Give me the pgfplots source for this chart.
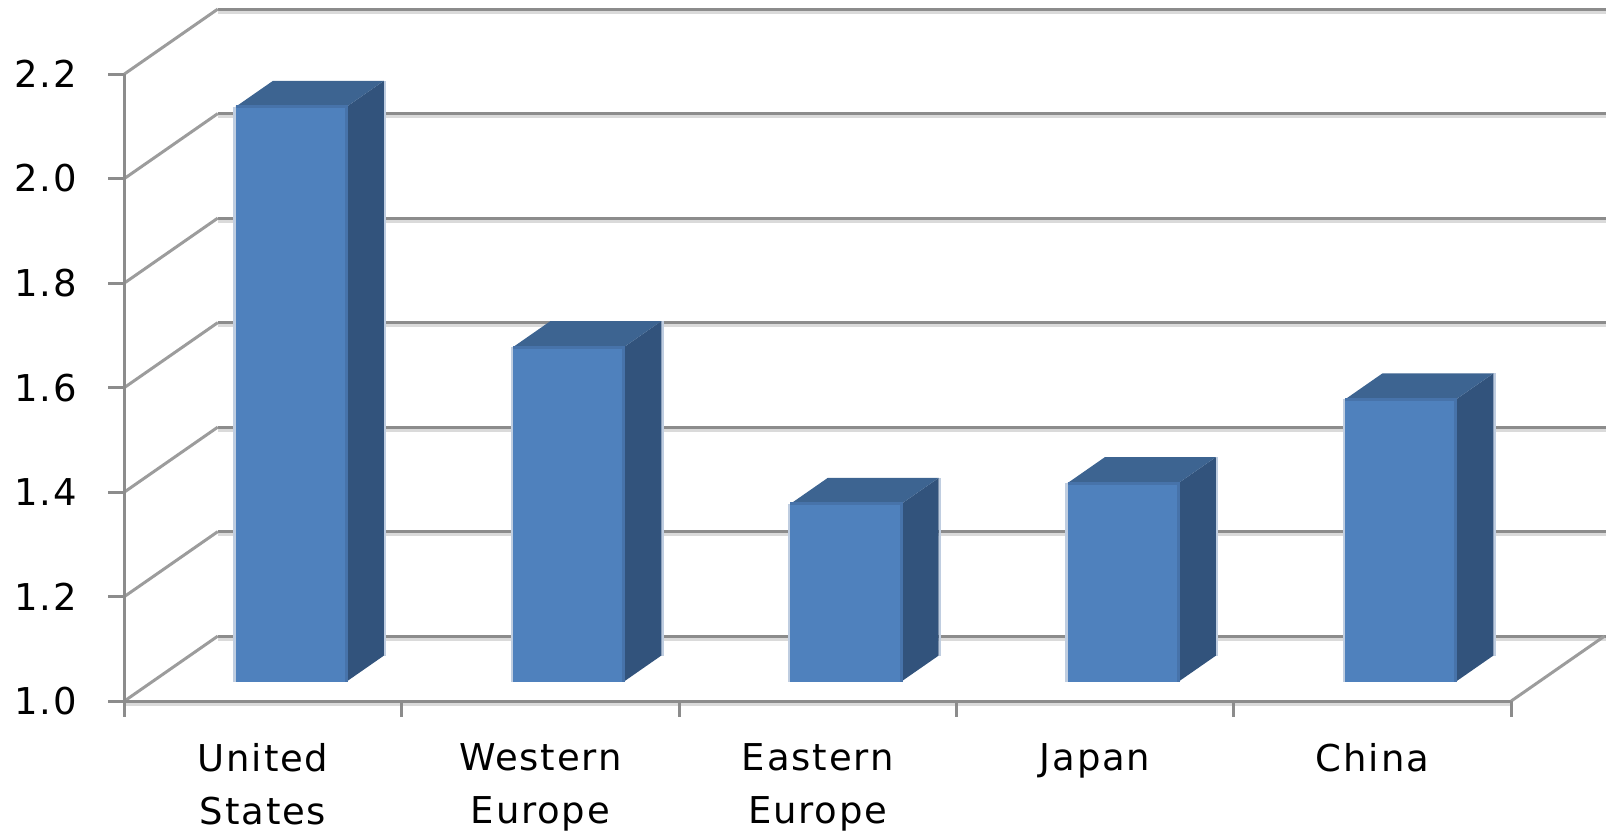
\documentclass[border=0pt]{standalone}
\usepackage{pgfplots}
\pgfplotsset{compat=1.18}
\usepackage{pgfplotstable}
\usepackage{fontspec}
\setmainfont{DejaVu Sans}[LetterSpace=5]

\definecolor{barfront}{HTML}{4F81BD}
\definecolor{bartop}{HTML}{3D6491}
\definecolor{barside}{HTML}{32537C}
\definecolor{barfrontedge}{HTML}{4773AA}
\definecolor{barglow}{HTML}{BFCDE0}
\definecolor{griddark}{HTML}{8C8C8C}
\definecolor{gridlight}{HTML}{DADADA}
\definecolor{griddiag}{HTML}{9C9C9C}

% bar values (one per category, plotted at 0..4)
\pgfplotstableread{
idx v
0 2.10
1 1.64
2 1.34
3 1.38
4 1.54
}\bartable

\begin{document}
\begin{tikzpicture}
\begin{axis}[
  x=138.8pt, y=261.5pt,
  xmin=0, xmax=5.3368, ymin=1, ymax=2.3243,
  clip=false,
  axis line style={draw=none},
  major tick length=0pt,
  no markers,
  ytick={1,1.2,1.4,1.6,1.8,2.0,2.2},
  yticklabels={1.0,1.2,1.4,1.6,1.8,2.0,2.2},
  xtick={0.5,1.5,2.5,3.5,4.5},
  xticklabels={United\\States,Western\\Europe,Eastern\\Europe,Japan,China},
  tick label style={font=\fontsize{18.5}{26.5}\selectfont, text=black},
  xticklabel style={align=center, inner sep=0pt, anchor=north, yshift=-20.9pt},
  yticklabel style={anchor=east, inner sep=0pt, xshift=-23.75pt},
  /pgf/number format/assume math mode=true,
]
% invisible frame points fixing the picture's extent
\addplot[draw=none] coordinates {(-0.4485,0.7509) (5.3403,2.3417)};
% back wall grid lines and side-wall diagonals
\pgfplotsinvokeforeach{1.0,1.2,1.4,1.6,1.8,2.0,2.2}{
  \pgfmathsetmacro\yb{#1+0.1243}
  \pgfmathsetmacro\yl{#1+0.1243-0.0060}
  \edef\mytmp{%
    \noexpand\addplot[gridlight, line width=1.5pt] coordinates {(0.3368,\yl) (5.3403,\yl)};
    \noexpand\addplot[griddark, line width=1.5pt] coordinates {(0.3368,\yb) (5.3403,\yb)};
    \noexpand\addplot[griddiag, line width=1.5pt] coordinates {(0,#1) (0.3368,\yb)};
    \noexpand\addplot[griddark, line width=1.5pt] coordinates {(-0.0576,#1) (0,#1)};
  }\mytmp
}
% floor front edge, right floor edge and front value axis
\addplot[gridlight, line width=1.5pt] coordinates {(0,0.9943) (5,0.9943)};
\addplot[griddark, line width=1.5pt] coordinates {(0,1) (5,1)};
\addplot[griddiag, line width=1.5pt] coordinates {(5,1) (5.3368,1.1243)};
\addplot[griddark, line width=1.8pt] coordinates {(0,1) (0,2.2)};
\pgfplotsinvokeforeach{0,1,2,3,4,5}{
  \addplot[griddark, line width=1.5pt] coordinates {(#1,1) (#1,0.9694)};
}
% bars
\pgfplotsinvokeforeach{0,1,2,3,4}{
  \pgfplotstablegetelem{#1}{v}\of\bartable
  \pgfmathsetmacro\va{\pgfplotsretval+0.3*0.1243}
  \pgfmathsetmacro\vb{\pgfplotsretval+0.7*0.1243}
  \pgfmathsetmacro\ba{1+0.3*0.1243}
  \pgfmathsetmacro\bb{1+0.7*0.1243}
  \pgfmathsetmacro\xla{#1+0.3+0.3*0.3368}
  \pgfmathsetmacro\xra{#1+0.7+0.3*0.3368}
  \pgfmathsetmacro\xlb{#1+0.3+0.7*0.3368}
  \pgfmathsetmacro\xrb{#1+0.7+0.7*0.3368}
  \pgfmathsetmacro\xlo{\xla-0.004}
  \pgfmathsetmacro\xro{\xrb+0.004}
  \edef\mytmp{%
    \noexpand\addplot[barglow, line width=1.2pt] coordinates {(\xlo,\ba) (\xlo,\va)};
    \noexpand\addplot[barglow, line width=1.2pt] coordinates {(\xro,\bb) (\xro,\vb)};
    \noexpand\addplot[fill=barside, draw=none] coordinates {(\xra,\ba) (\xrb,\bb) (\xrb,\vb) (\xra,\va)};
    \noexpand\addplot[fill=bartop, draw=none] coordinates {(\xla,\va) (\xra,\va) (\xrb,\vb) (\xlb,\vb)};
    \noexpand\addplot[fill=barfront, draw=none] coordinates {(\xla,\ba) (\xra,\ba) (\xra,\va) (\xla,\va)};
    \noexpand\addplot[barfrontedge, line width=1.5pt] coordinates {(\xla,\va) (\xra,\va) (\xra,\ba)};
  }\mytmp
}
\end{axis}
\end{tikzpicture}
\end{document}
